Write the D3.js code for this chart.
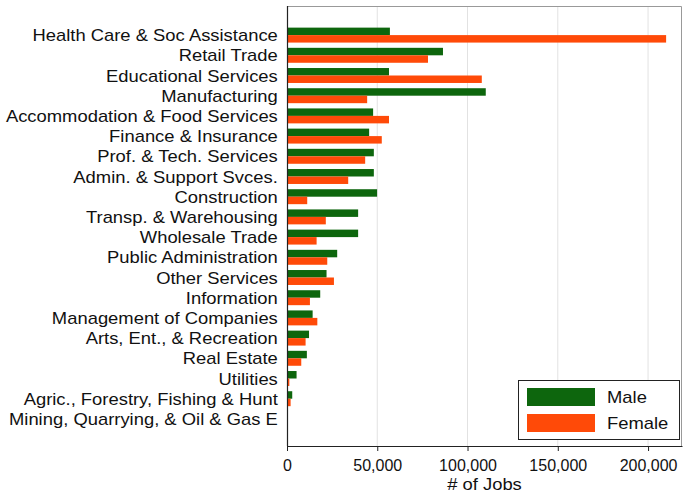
<!DOCTYPE html>
<html>
<head>
<meta charset="utf-8">
<script src="https://cdn.jsdelivr.net/npm/d3@7"></script>
<style>
  body { margin: 0; background: #fff; }
  text { font-family: "Liberation Sans", Arial, sans-serif; fill: #111; }
</style>
</head>
<body>
<svg id="chart" width="685" height="495"></svg>
<script>
// Industries, in plotted order (top to bottom)
const industries = [
  'Health Care & Soc Assistance', 'Retail Trade', 'Educational Services', 'Manufacturing',
  'Accommodation & Food Services', 'Finance & Insurance', 'Prof. & Tech. Services',
  'Admin. & Support Svces.', 'Construction', 'Transp. & Warehousing', 'Wholesale Trade',
  'Public Administration', 'Other Services', 'Information', 'Management of Companies',
  'Arts, Ent., & Recreation', 'Real Estate', 'Utilities', 'Agric., Forestry, Fishing & Hunt',
  'Mining, Quarrying, & Oil & Gas E',
];
const maleJobs = [
  57000, 86400, 56500, 110100, 47700, 45500, 48100, 48100, 49900, 39400, 39400,
  27800, 21900, 18400, 14200, 12200, 11000, 5300, 2900, 500,
];
const femaleJobs = [
  210000, 78100, 107900, 44400, 56500, 52500, 43300, 33900, 11200, 21500, 16400,
  22300, 26000, 12700, 16800, 10300, 7900, 1300, 2000, 200,
];
const xTicks = [0, 50000, 100000, 150000, 200000];
const seriesNames = ['Male', 'Female'];
const seriesColors = ['#0d660d', '#ff4a08'];

const svg = d3.select('#chart');
const margin = { top: 6, right: 3, bottom: 49, left: 287 };
const width = 685 - margin.left - margin.right;
const height = 495 - margin.top - margin.bottom;
const STRETCH = 'scale(1.15,1)'; // the source text is a bit wider than it is tall

const g = svg.append('g').attr('transform', `translate(${margin.left},${margin.top})`);

const x = d3.scaleLinear().domain([0, 218800]).range([0, width]);
const y = d3.scaleBand().domain(industries).range([19, height - 17]).paddingInner(0.26).paddingOuter(0.13);
const ySub = d3.scaleBand().domain(seriesNames).range([0, y.bandwidth()]);

// Grid lines
g.selectAll('.grid').data(xTicks.slice(1)).enter().append('line')
    .attr('class', 'grid')
    .attr('x1', (d) => x(d)).attr('x2', (d) => x(d))
    .attr('y1', 0).attr('y2', height)
    .attr('stroke', '#e2e2e2').attr('stroke-width', 1);

// Frame (top and right)
g.append('path')
    .attr('d', `M0,0.5H${width - 0.5}V${height}`)
    .attr('fill', 'none').attr('stroke', '#999').attr('stroke-width', 1);

const rows = industries.map((name, i) => ({ name, values: [maleJobs[i], femaleJobs[i]] }));

const grp = g.selectAll('.row').data(rows).enter().append('g')
    .attr('class', 'row')
    .attr('transform', (d) => `translate(0,${y(d.name)})`);

grp.selectAll('rect').data((d) => d.values.map((v, i) => ({ key: seriesNames[i], v, i })))
  .enter().append('rect')
    .attr('x', 0)
    .attr('y', (d) => ySub(d.key))
    .attr('width', (d) => x(d.v))
    .attr('height', ySub.bandwidth())
    .attr('fill', (d) => seriesColors[d.i]);

// Category labels
g.append('g')
    .attr('transform', 'translate(0,1)')
    .call(d3.axisLeft(y).tickSize(0).tickPadding(8))
    .call((s) => s.select('.domain').remove())
    .selectAll('text')
      .style('font-size', '16px')
      .style('font-family', '"Liberation Sans", Arial, sans-serif')
      .attr('fill', '#111')
      .attr('transform', STRETCH);

// Axes lines
g.append('line').attr('x1', 0.5).attr('x2', 0.5).attr('y1', 0).attr('y2', height)
    .attr('stroke', '#222').attr('stroke-width', 1.2);

const xAxis = g.append('g')
    .attr('transform', `translate(0,${height})`)
    .call(d3.axisBottom(x).tickValues(xTicks).tickFormat(d3.format(',')).tickSize(5).tickSizeOuter(0).tickPadding(9));
xAxis.select('.domain').attr('stroke', '#222').attr('stroke-width', 1.2);
xAxis.selectAll('.tick line').attr('stroke', '#222');
xAxis.selectAll('text')
    .style('font-size', '16px')
    .style('font-family', '"Liberation Sans", Arial, sans-serif')
    .attr('fill', '#111');

svg.append('text')
    .attr('transform', `translate(${margin.left + width / 2},490) ${STRETCH}`)
    .attr('text-anchor', 'middle')
    .style('font-size', '16px')
    .text('# of Jobs');

// Legend
const legend = svg.append('g').attr('transform', 'translate(518,380)');
legend.append('rect').attr('x', 0.5).attr('y', 0.5).attr('width', 161).attr('height', 59)
    .attr('fill', '#fff').attr('stroke', '#222').attr('stroke-width', 1);
seriesNames.forEach((name, i) => {
  legend.append('rect').attr('x', 9).attr('y', 8 + i * 26).attr('width', 68).attr('height', 18)
      .attr('fill', seriesColors[i]);
  legend.append('text')
      .attr('transform', `translate(89,${17 + i * 26}) ${STRETCH}`)
      .attr('dy', '0.35em')
      .style('font-size', '16px').text(name);
});
</script>
</body>
</html>
